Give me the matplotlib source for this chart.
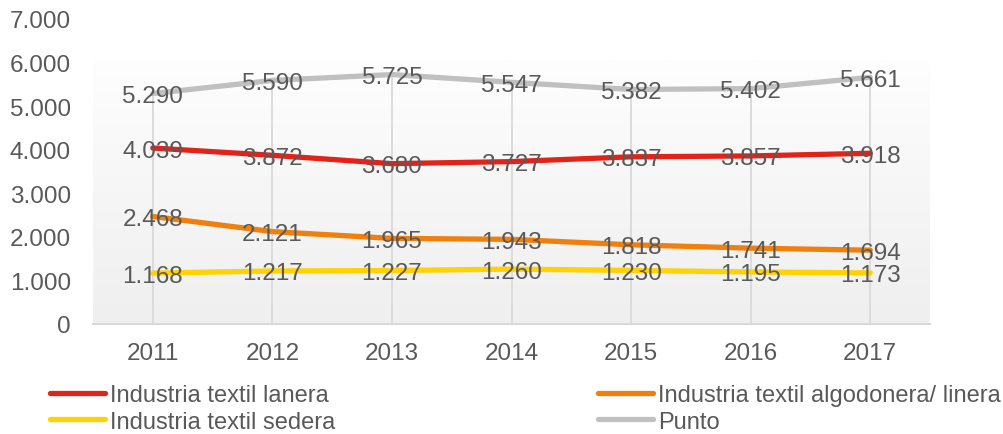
import numpy as np
import matplotlib.pyplot as plt
from matplotlib.colors import LinearSegmentedColormap

plt.rcParams['font.family'] = ['Liberation Sans', 'DejaVu Sans']

years = ['2011', '2012', '2013', '2014', '2015', '2016', '2017']
lanera = [4039, 3872, 3680, 3727, 3837, 3857, 3918]
algodonera = [2468, 2121, 1965, 1943, 1818, 1741, 1694]
sedera = [1168, 1217, 1227, 1260, 1230, 1195, 1173]
punto = [5290, 5590, 5725, 5547, 5382, 5402, 5661]
yticks = [0, 1000, 2000, 3000, 4000, 5000, 6000, 7000]

names = ['Industria textil lanera', 'Industria textil algodonera/ linera',
         'Industria textil sedera', 'Punto']
colors = ['#e2231a', '#f07f0c', '#ffd200', '#c0c0c0']
txt = '#595959'

def fmt(v):
    return f'{v:,}'.replace(',', '.')

fig = plt.figure(figsize=(10.04, 4.35), dpi=100)
ax = fig.add_axes([93/1004, 1-325/435, (930-93)/1004, (325-20)/435])
x = np.arange(len(years))
ax.set_xlim(-0.5, len(years)-0.5)
ax.set_ylim(0, 7000)

# gradient plot-area fill
cmap = LinearSegmentedColormap.from_list('g', ['#efefef', '#f6f6f6', '#fefefe'])
grad = np.linspace(0, 1, 256).reshape(-1, 1)
ax.imshow(grad, cmap=cmap, aspect='auto', origin='lower',
          extent=(-0.5, len(years)-0.5, 0, 6050), zorder=0)

# drop lines from highest series down to axis
series = [lanera, algodonera, sedera, punto]
tops = np.max(np.array(series), axis=0)
ax.vlines(x, 0, tops, color='#d9d9d9', lw=1.3, zorder=1)

lines = []
for s, c in zip(series, colors):
    l, = ax.plot(x, s, color=c, lw=3.8, solid_capstyle='round', zorder=3)
    lines.append(l)
    for xi, v in zip(x, s):
        ax.text(xi, v, fmt(v), ha='center', va='center_baseline', fontsize=17.5,
                color=txt, zorder=4)

for sp in ['top', 'right', 'left']:
    ax.spines[sp].set_visible(False)
ax.spines['bottom'].set_color('#d9d9d9')
ax.spines['bottom'].set_linewidth(1.5)
ax.set_xticks(x)
ax.set_xticklabels(years)
ax.set_yticks(yticks)
ax.set_yticklabels([fmt(t) for t in yticks])
ax.tick_params(length=0, labelsize=17.5, labelcolor=txt)
ax.tick_params(axis='y', pad=16)
ax.tick_params(axis='x', pad=13)

leg_kw = dict(frameon=False, fontsize=17, handlelength=2.35, handletextpad=0.2,
              labelspacing=0.2, borderaxespad=0, borderpad=0, labelcolor=txt)
l1 = fig.legend([lines[0], lines[2]], [names[0], names[2]],
                loc='upper left', bbox_to_anchor=(50/1004, 1-385/435), **leg_kw)
l2 = fig.legend([lines[1], lines[3]], [names[1], names[3]],
                loc='upper left', bbox_to_anchor=(598/1004, 1-385/435), **leg_kw)

fig.savefig('out.png', dpi=100)
